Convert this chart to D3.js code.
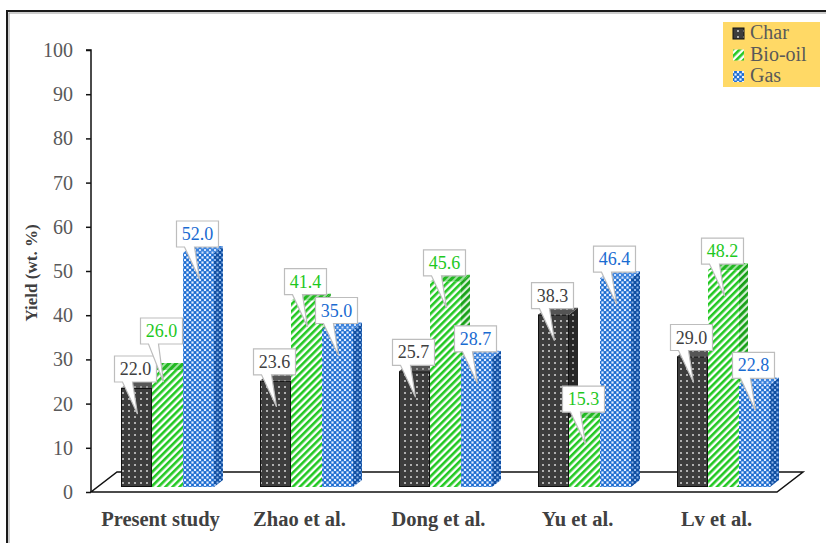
<!DOCTYPE html>
<html>
<head>
<meta charset="utf-8">
<script src="https://cdn.jsdelivr.net/npm/d3@7"></script>
<style>
  html, body { margin: 0; padding: 0; background: #fff; }
  svg { display: block; }
  svg text { font-family: "Liberation Serif", "Times New Roman", Times, serif; }
</style>
</head>
<body>
<svg id="chart" width="826" height="543"></svg>
<script>
// Product yields of the pyrolysis study compared with literature
const categories = ["Present study", "Zhao et al.", "Dong et al.", "Yu et al.", "Lv et al."];
const seriesNames = ["Char", "Bio-oil", "Gas"];
const charYield = [22.0, 23.6, 25.7, 38.3, 29.0];
const bioOilYield = [26.0, 41.4, 45.6, 15.3, 48.2];
const gasYield = [52.0, 35.0, 28.7, 46.4, 22.8];
const yTicks = [0, 10, 20, 30, 40, 50, 60, 70, 80, 90, 100];

const seriesValues = [charYield, bioOilYield, gasYield];
const labelColors = ["#404040", "#1ec81e", "#1a6bd1"];

// extra lift for a callout that would collide with its neighbour
const calloutLift = { "Present study|Bio-oil": { dy: 20, dx: -5 } };

const svg = d3.select("#chart");
const defs = svg.append("defs");

// ---- fill patterns ----
function dotPattern(id, bg, dot, size, r, stagger) {
  const p = defs.append("pattern").attr("id", id).attr("patternUnits", "userSpaceOnUse")
    .attr("width", size).attr("height", size);
  p.append("rect").attr("width", size).attr("height", size).attr("fill", bg);
  p.append("rect").attr("x", size / 2 - r).attr("y", size / 2 - r).attr("width", 2 * r).attr("height", 2 * r).attr("fill", dot);
  if (stagger) {
    [[0, 0], [size, 0], [0, size], [size, size]].forEach(([px, py]) => {
      p.append("rect").attr("x", px - r).attr("y", py - r).attr("width", 2 * r).attr("height", 2 * r).attr("fill", dot);
    });
  }
}
function stripePattern(id, bg, fg, w) {
  const p = defs.append("pattern").attr("id", id).attr("patternUnits", "userSpaceOnUse")
    .attr("width", 5).attr("height", 5).attr("patternTransform", "rotate(45)");
  p.append("rect").attr("width", 5).attr("height", 5).attr("fill", bg);
  p.append("rect").attr("x", 0).attr("y", 0).attr("width", w).attr("height", 5).attr("fill", fg);
}
dotPattern("charFront", "#3d3d3d", "#b0b0b0", 6, 1, false);
dotPattern("charSide", "#262626", "#8a8a8a", 6, 1, false);
dotPattern("charTop", "#555555", "#9a9a9a", 6, 1, false);
stripePattern("bioFront", "#ffffff", "#22c822", 2.6);
stripePattern("bioSide", "#d8f0d8", "#17a017", 2.8);
stripePattern("bioTop", "#9ee29e", "#22b822", 3);
dotPattern("gasFront", "#1a6bd1", "#e8f0ff", 5, 1.1, true);
dotPattern("gasSide", "#0f4fa3", "#8fb5e8", 5, 1, true);
dotPattern("gasTop", "#3a82dc", "#cfe0fa", 5, 1, true);

const fills = [
  { front: "url(#charFront)", side: "url(#charSide)", top: "url(#charTop)" },
  { front: "url(#bioFront)", side: "url(#bioSide)", top: "url(#bioTop)" },
  { front: "url(#gasFront)", side: "url(#gasSide)", top: "url(#gasTop)" }
];

// ---- scales ----
const yAxisScale = d3.scaleLinear().domain([0, 100]).range([492, 50]);
const yBar = d3.scaleLinear().domain([0, 100]).range([487, 37]);
const xGroup = d3.scalePoint().domain(categories).range([167.5, 723.5]);
const xSeries = d3.scaleBand().domain(seriesNames).range([-46.5, 46.5]);
const bw = xSeries.bandwidth();
const depthX = 9, depthY = 7;

// ---- frame ----
svg.append("rect").attr("x", 7).attr("y", 11).attr("width", 840).attr("height", 560)
  .attr("fill", "none").attr("stroke", "#1a1a1a").attr("stroke-width", 2);
svg.append("rect").attr("x", 9).attr("y", 13).attr("width", 840).attr("height", 560)
  .attr("fill", "none").attr("stroke", "#9a9a9a").attr("stroke-width", 1);

// ---- floor ----
const floorFrontY = yAxisScale(0), floorBackY = floorFrontY - 20;
const floorL = 91, floorR = 777, floorDX = 26;
svg.append("path")
  .attr("d", `M${floorL},${floorFrontY}L${floorR},${floorFrontY}L${floorR + floorDX},${floorBackY}L${floorL + floorDX},${floorBackY}Z`)
  .attr("fill", "none").attr("stroke", "#111").attr("stroke-width", 1.5);

// ---- y axis ----
const yAxis = d3.axisLeft(yAxisScale).tickValues(yTicks).tickSize(5).tickPadding(13).tickFormat(d3.format("d"));
const gy = svg.append("g").attr("transform", "translate(91,0)").call(yAxis);
gy.attr("font-family", null).attr("font-size", null);
gy.select(".domain").attr("stroke", "#111").attr("stroke-width", 1.5).attr("d", `M-5,${yAxisScale(100)}H0V${yAxisScale(0)}`);
gy.selectAll(".tick line").attr("stroke", "#111").attr("stroke-width", 1.5);
gy.selectAll(".tick text").attr("font-size", 20).attr("fill", "#595959");

svg.append("text")
  .attr("transform", `translate(37,${(yAxisScale(0) + yAxisScale(100)) / 2 + 2}) rotate(-90)`)
  .attr("text-anchor", "middle")
  .attr("font-weight", "bold").attr("font-size", 17).attr("fill", "#404040")
  .text("Yield (wt. %)");

// ---- 3D bars ----
const barsG = svg.append("g");
categories.forEach((cat, i) => {
  seriesNames.forEach((s, j) => {
    const v = seriesValues[j][i];
    const x0 = xGroup(cat) + xSeries(s);
    const x1 = x0 + bw;
    const yTop = yBar(v), yBot = yBar(0);
    const g = barsG.append("g");
    g.append("path")
      .attr("d", `M${x1},${yTop}L${x1 + depthX},${yTop - depthY}L${x1 + depthX},${yBot - depthY}L${x1},${yBot}Z`)
      .attr("fill", fills[j].side);
    g.append("path")
      .attr("d", `M${x0},${yTop}L${x0 + depthX},${yTop - depthY}L${x1 + depthX},${yTop - depthY}L${x1},${yTop}Z`)
      .attr("fill", fills[j].top);
    g.append("rect").attr("x", x0).attr("y", yTop).attr("width", bw).attr("height", yBot - yTop)
      .attr("fill", fills[j].front);
    if (j === 0) {
      g.append("rect").attr("x", x0 + 0.5).attr("y", yTop + 0.5).attr("width", bw - 1).attr("height", yBot - yTop - 1)
        .attr("fill", "none").attr("stroke", "#111").attr("stroke-width", 1);
    }
  });
});

// ---- callout labels ----
const labelsG = svg.append("g");
const boxW = 42, boxH = 26;
categories.forEach((cat, i) => {
  seriesNames.forEach((s, j) => {
    const v = seriesValues[j][i];
    const adj = calloutLift[cat + "|" + s] || { dy: 0, dx: 0 };
    const cx = xGroup(cat) + xSeries(s) + bw / 2 - 1 + adj.dx;
    const bottom = yBar(v) - 6 - adj.dy;
    const top = bottom - boxH;
    const left = cx - boxW / 2, right = cx + boxW / 2;
    const tipX = cx + 2, tipY = bottom + 32 + adj.dy * 0.3;
    const b0 = cx - 13, b1 = cx - 3;
    const g = labelsG.append("g");
    g.append("path")
      .attr("d", `M${left},${top}H${right}V${bottom}H${b1}L${tipX},${tipY}L${b0},${bottom}H${left}Z`)
      .attr("fill", "#fff").attr("stroke", "#bdbdbd").attr("stroke-width", 1.2);
    g.append("text")
      .attr("x", cx).attr("y", bottom - 7)
      .attr("text-anchor", "middle")
      .attr("font-size", 18).attr("fill", labelColors[j])
      .text(d3.format(".1f")(v));
  });
});

// ---- category labels ----
svg.append("g").selectAll("text").data(categories).join("text")
  .attr("x", d => xGroup(d) - 7).attr("y", 526)
  .attr("text-anchor", "middle")
  .attr("font-weight", "bold").attr("font-size", 20.5).attr("fill", "#404040")
  .text(d => d);

// ---- legend ----
const lg = svg.append("g").attr("transform", "translate(723,22)");
lg.append("rect").attr("width", 97).attr("height", 65).attr("fill", "#ffd966");
seriesNames.forEach((s, j) => {
  const y = 16 + j * 21.5;
  lg.append("rect").attr("x", 10).attr("y", y - 10).attr("width", 11).attr("height", 11)
    .attr("fill", fills[j].front).attr("stroke", j === 0 ? "#111" : "none").attr("stroke-width", 1);
  lg.append("text").attr("x", 27).attr("y", y + 1)
    .attr("font-size", 20).attr("fill", "#595959")
    .text(s);
});
</script>
</body>
</html>
